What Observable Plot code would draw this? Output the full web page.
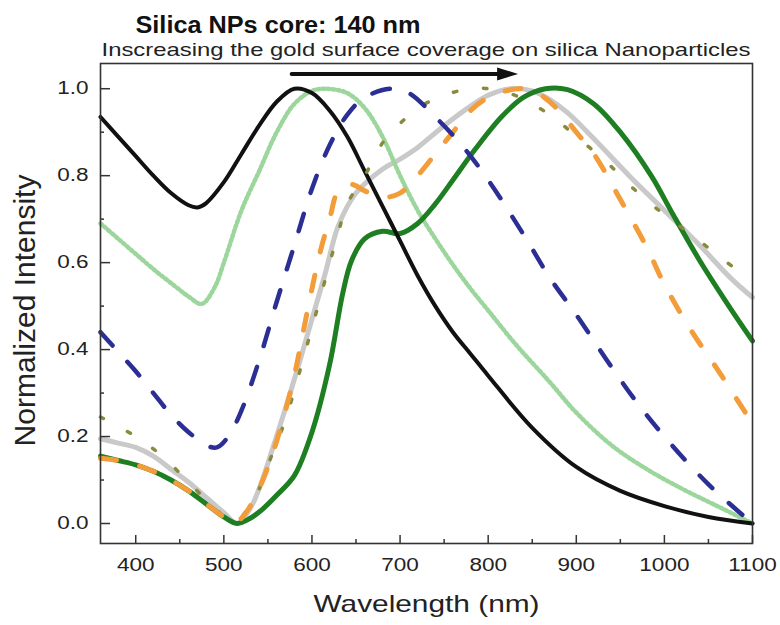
<!DOCTYPE html>
<html>
<head>
<meta charset="utf-8">
<script src="https://cdn.jsdelivr.net/npm/d3@7"></script>
<script src="https://cdn.jsdelivr.net/npm/@observablehq/plot@0.6"></script>
<style>
  html, body { margin: 0; padding: 0; background: #fff; }
  #chart { width: 780px; height: 625px; }
</style>
</head>
<body>
<div id="chart"></div>
<script>
// ---------- data ----------
const titleText = "Silica NPs core: 140 nm";
const subtitleText = "Inscreasing the gold surface coverage on silica Nanoparticles";
const xLabel = "Wavelength (nm)";
const yLabel = "Normalized Intensity";

const xTicksMajor = [400, 500, 600, 700, 800, 900, 1000, 1100];
const xTicksMinor = [450, 550, 650, 750, 850, 950, 1050];
const yTicksMajor = [0, 0.2, 0.4, 0.6, 0.8, 1.0];
const yTicksMinor = [0.1, 0.3, 0.5, 0.7, 0.9];

// black solid
const nmBlack = [360,380,400,420,440,460,470,480,500,520,540,560,580,600,620,640,660,680,700,720,740,760,780,800,850,900,950,1000,1050,1100];
const valBlack = [0.935,0.89,0.845,0.80,0.76,0.732,0.727,0.737,0.785,0.85,0.915,0.97,1.0,0.99,0.95,0.89,0.81,0.73,0.65,0.57,0.50,0.44,0.39,0.34,0.22,0.13,0.075,0.04,0.015,0.0];

// light green dotted
const nmLight = [360,380,400,420,440,460,475,490,500,520,540,560,580,600,615,640,660,680,700,720,740,760,780,800,830,870,900,940,980,1020,1060,1100];
const valLight = [0.69,0.655,0.62,0.585,0.553,0.522,0.505,0.545,0.60,0.72,0.81,0.90,0.965,0.995,1.0,0.99,0.955,0.89,0.80,0.72,0.655,0.595,0.54,0.49,0.415,0.325,0.255,0.18,0.125,0.08,0.04,0.0];

// blue dashed
const nmBlue = [360,380,400,420,440,460,480,492,505,520,540,560,580,600,620,640,660,690,710,740,770,800,840,870,900,940,970,1000,1050,1100];
const valBlue = [0.44,0.395,0.35,0.30,0.25,0.21,0.18,0.175,0.20,0.26,0.375,0.51,0.64,0.77,0.87,0.94,0.98,1.0,0.99,0.935,0.87,0.79,0.665,0.565,0.48,0.36,0.275,0.20,0.09,0.0];

// orange dashed
const nmOrange = [360,380,400,420,440,460,480,500,512,525,540,550,560,570,580,590,600,610,620,630,645,660,680,700,720,740,760,780,800,820,840,860,880,900,920,950,980,1000,1030,1060,1100];
const valOrange = [0.15,0.145,0.135,0.12,0.10,0.075,0.045,0.015,0.0,0.025,0.08,0.13,0.19,0.26,0.34,0.44,0.54,0.63,0.70,0.765,0.78,0.765,0.75,0.76,0.80,0.85,0.90,0.95,0.98,0.995,1.0,0.985,0.95,0.90,0.85,0.745,0.635,0.55,0.445,0.355,0.23];

// light grey solid
const nmGrey = [360,380,400,420,440,460,480,500,515,530,540,555,570,585,600,615,630,650,680,700,720,750,780,800,825,850,870,890,920,960,1000,1040,1075,1100];
const valGrey = [0.195,0.185,0.175,0.155,0.125,0.095,0.06,0.025,0.0,0.035,0.08,0.17,0.265,0.365,0.47,0.575,0.685,0.76,0.815,0.838,0.865,0.915,0.96,0.985,1.0,0.995,0.975,0.945,0.885,0.80,0.72,0.64,0.565,0.52];

// olive sparse dotted
const nmOlive = [360,400,430,460,490,510,530,555,570,600,630,640,660,680,700,720,750,780,800,830,870,900,935,965,1000,1030,1065,1100];
const valOlive = [0.245,0.20,0.155,0.095,0.035,0.005,0.04,0.16,0.24,0.45,0.67,0.735,0.80,0.875,0.92,0.955,0.985,1.0,1.0,0.985,0.94,0.89,0.83,0.77,0.71,0.665,0.61,0.555];

// dark green solid
const nmGreen = [360,380,400,420,440,460,480,500,515,530,545,560,580,600,620,635,645,660,680,700,720,740,760,785,815,840,865,890,920,950,985,1010,1040,1070,1100];
const valGreen = [0.155,0.145,0.135,0.12,0.10,0.075,0.045,0.015,0.0,0.012,0.035,0.065,0.11,0.21,0.365,0.53,0.605,0.655,0.672,0.667,0.69,0.735,0.79,0.86,0.935,0.98,1.0,0.998,0.965,0.90,0.80,0.71,0.605,0.51,0.42];

// annotation arrow (nm, intensity)
const arrowNm = [577, 812];
const arrowTipNm = [834];
const arrowLevel = 1.034;

// ---------- build ----------
const toRows = (xs, ys) => xs.map((x, i) => ({x, y: ys[i]}));
const W = 780, H = 625;
const mL = 100, mR = 28, mT = 63, mB = 82;
const frameW = W - mL - mR, frameH = H - mT - mB;
const ink = "#222";

const arrowHead = {
  draw(context) {
    context.moveTo(0, 0);
    context.lineTo(-21, -6.5);
    context.lineTo(-21, 6.5);
    context.closePath();
  }
};

const lineOpts = {x: "x", y: "y", curve: "catmull-rom", strokeLinejoin: "round"};

const chart = Plot.plot({
  width: W,
  height: H,
  marginLeft: mL,
  marginRight: mR,
  marginTop: mT,
  marginBottom: mB,
  style: {fontFamily: "'Liberation Sans', Arial, sans-serif", background: "#fff", color: ink},
  x: {domain: [360, 1100], axis: null},
  y: {domain: [-0.046, 1.058], axis: null},
  marks: [
    // curves
    Plot.line(toRows(nmGrey, valGrey), {...lineOpts, stroke: "#c9c9c9", strokeWidth: 5}),
    Plot.line(toRows(nmLight, valLight), {...lineOpts, stroke: "#9cd69c", strokeWidth: 4.5, strokeDasharray: "2 3"}),
    Plot.line(toRows(nmGreen, valGreen), {...lineOpts, stroke: "#1e7e22", strokeWidth: 5}),
    Plot.line(toRows(nmBlack, valBlack), {...lineOpts, stroke: "#111", strokeWidth: 4}),
    Plot.line(toRows(nmOlive, valOlive), {...lineOpts, stroke: "#8a8a3c", strokeWidth: 3.5, strokeDasharray: "3.5 27"}),
    Plot.line(toRows(nmOrange, valOrange), {...lineOpts, stroke: "#f39c3a", strokeWidth: 5, strokeDasharray: "16 24"}),
    Plot.line(toRows(nmBlue, valBlue), {...lineOpts, stroke: "#2b2f94", strokeWidth: 4.5, strokeDasharray: "18 22"}),

    // frame and inward ticks
    Plot.frame({stroke: "#333", strokeWidth: 1.6}),
    Plot.tickX(xTicksMajor, {x: d => d, insetTop: frameH - 8, stroke: "#333", strokeWidth: 1.5}),
    Plot.tickX(xTicksMinor, {x: d => d, insetTop: frameH - 4, stroke: "#333", strokeWidth: 1.5}),
    Plot.tickY(yTicksMajor, {y: d => d, insetRight: frameW - 10, stroke: "#333", strokeWidth: 1.5}),
    Plot.tickY(yTicksMinor, {y: d => d, insetRight: frameW - 4, stroke: "#333", strokeWidth: 1.5}),

    // tick labels
    Plot.axisX(xTicksMajor, {anchor: "bottom", tickSize: 0, tickPadding: 15, fontSize: 18, label: null, fill: ink, tickFormat: d => String(d)}),
    Plot.axisY(yTicksMajor, {anchor: "left", tickSize: 0, tickPadding: 12, fontSize: 18, label: null, fill: ink, tickFormat: d => d.toFixed(1)}),

    // axis titles
    Plot.text([xLabel], {frameAnchor: "bottom", text: d => d, dy: 61, textAnchor: "middle", lineAnchor: "middle", fontSize: 24, fill: ink}),
    Plot.text([yLabel], {frameAnchor: "left", text: d => d, dx: -75, dy: 7, rotate: -90, textAnchor: "middle", lineAnchor: "middle", fontSize: 30, fill: ink}),

    // title & subtitle
    Plot.text([titleText], {frameAnchor: "top-left", text: d => d, dx: 35, dy: -38, textAnchor: "start", lineAnchor: "middle", fontSize: 23, fontWeight: "bold", fill: "#111"}),
    Plot.text([subtitleText], {frameAnchor: "top-left", text: d => d, dx: 1, dy: -14, textAnchor: "start", lineAnchor: "middle", fontSize: 19, fill: ink}),

    // arrow
    Plot.line(arrowNm.map(x => ({x, y: arrowLevel})), {x: "x", y: "y", stroke: "#111", strokeWidth: 4}),
    Plot.dot(arrowTipNm.map(x => ({x, y: arrowLevel})), {x: "x", y: "y", symbol: arrowHead, fill: "#111", stroke: "none"})
  ]
});

document.getElementById("chart").appendChild(chart);

// widen glyphs horizontally to match the reference's stretched lettering
const targetLengths = {};
targetLengths[titleText] = 285;
targetLengths[subtitleText] = 649;
targetLengths[xLabel] = 226;
chart.querySelectorAll("text").forEach(t => {
  const s = t.textContent;
  if (s === yLabel) return;
  const len = t.getComputedTextLength();
  if (!len) return;
  const target = targetLengths[s] != null ? targetLengths[s] : len * 1.25;
  t.setAttribute("textLength", target.toFixed(1));
  t.setAttribute("lengthAdjust", "spacingAndGlyphs");
});
</script>
</body>
</html>
